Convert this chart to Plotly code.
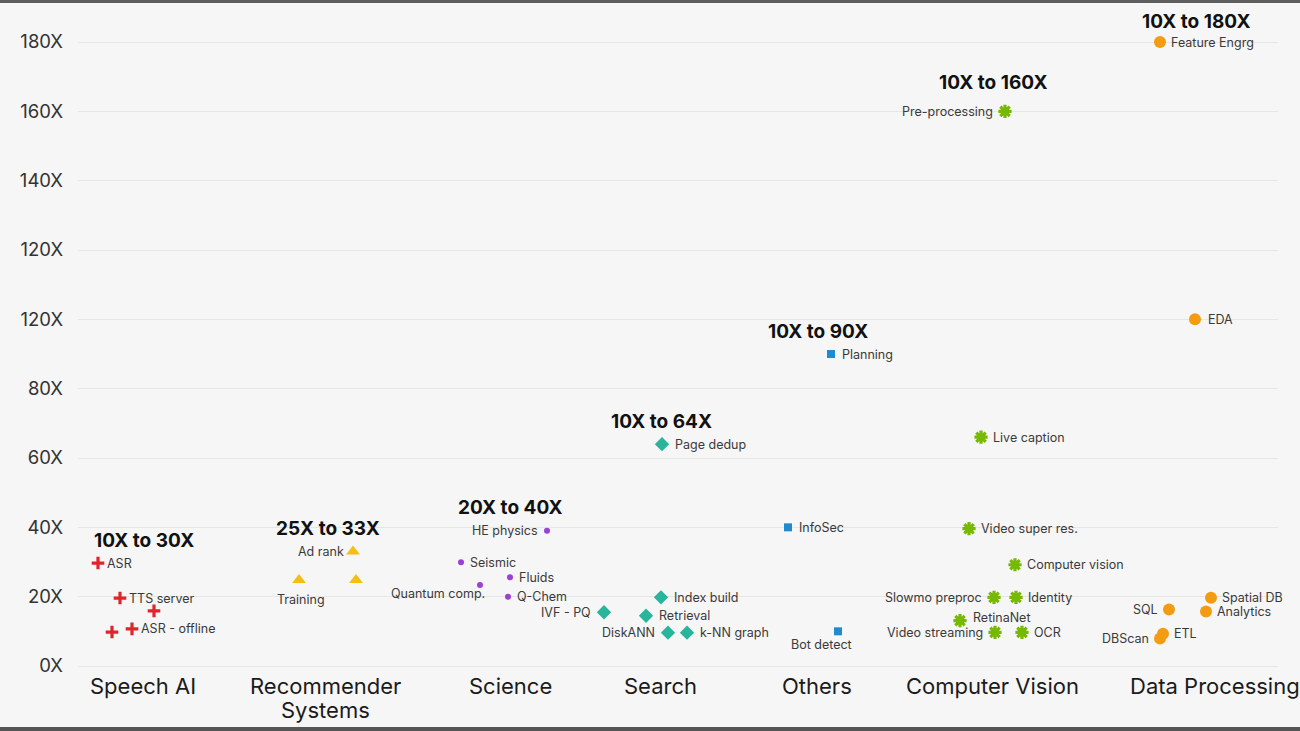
import plotly.graph_objects as go

# ---------------- data ----------------
categories = ["Speech AI", "Recommender<br>Systems", "Science", "Search",
              "Others", "Computer Vision", "Data Processing"]
category_x = [0.65, 2.47, 4.32, 5.82, 7.39, 9.14, 11.37]
speedup_ranges = ["10X to 30X", "25X to 33X", "20X to 40X", "10X to 64X",
                  "10X to 90X", "10X to 160X", "10X to 180X"]
range_label_x = [0.66, 2.50, 4.32, 5.83, 7.40, 9.15, 11.18]

y_tick_values = [0, 20, 40, 60, 80, 100, 120, 140, 160, 180]
y_tick_labels = ["0X", "20X", "40X", "60X", "80X", "120X", "120X", "140X", "160X", "180X"]

speech_names = ["ASR", "TTS server", "", "", "ASR - offline"]
speech_x = [0.20, 0.42, 0.76, 0.34, 0.54]
speech_y = [29.7, 19.6, 15.9, 9.8, 10.7]

recsys_names = ["Ad rank", "Training", ""]
recsys_x = [2.75, 2.21, 2.78]
recsys_y = [33.0, 24.8, 24.8]

science_names = ["HE physics", "Seismic", "Fluids", "Quantum comp.", "Q-Chem"]
science_x = [4.69, 3.83, 4.32, 4.02, 4.30]
science_y = [39.0, 29.9, 25.6, 23.4, 20.0]

search_names = ["Page dedup", "Index build", "IVF - PQ", "Retrieval", "DiskANN", "k-NN graph"]
search_x = [5.84, 5.83, 5.26, 5.68, 5.90, 6.09]
search_y = [64.0, 19.8, 15.5, 14.5, 9.6, 9.6]

others_names = ["Planning", "InfoSec", "Bot detect"]
others_x = [7.53, 7.10, 7.60]
others_y = [90.0, 40.0, 10.0]

cv_names = ["Pre-processing", "Live caption", "Video super res.", "Computer vision",
            "Slowmo preproc", "Identity", "RetinaNet", "Video streaming", "OCR"]
cv_x = [9.27, 9.03, 8.91, 9.37, 9.16, 9.38, 8.82, 9.17, 9.44]
cv_y = [160.0, 66.0, 39.6, 29.2, 19.8, 19.8, 13.1, 9.7, 9.7]

dp_names = ["Feature Engrg", "EDA", "Spatial DB", "Analytics", "SQL", "DBScan", "ETL"]
dp_x = [10.82, 11.17, 11.33, 11.28, 10.91, 10.82, 10.85]
dp_y = [180.0, 100.0, 19.7, 15.7, 16.3, 7.9, 9.3]

# ---------------- styles ----------------
groups = [
    (speech_names, speech_x, speech_y, dict(symbol="cross-thin-open", size=9, color="#e0242b",
                                            line=dict(width=3.2, color="#e0242b")), 8),
    (recsys_names, recsys_x, recsys_y, dict(symbol="triangle-up", size=12, color="#f6be12",
                                            line=dict(width=0)), 8),
    (science_names, science_x, science_y, dict(symbol="circle", size=6, color="#9b3fd6",
                                               line=dict(width=0)), 8),
    (search_names, search_x, search_y, dict(symbol="diamond", size=11, color="#27b59b",
                                            line=dict(width=0)), 12),
    (others_names, others_x, others_y, dict(symbol="square", size=8, color="#1e8bd0",
                                            line=dict(width=0)), 10),
    (cv_names, cv_x, cv_y, dict(symbol="asterisk-open", size=11, color="#76b900",
                                line=dict(width=3.2, color="#76b900")), 11),
    (dp_names, dp_x, dp_y, dict(symbol="circle", size=12, color="#f39c12",
                                line=dict(width=0)), 10),
]

left_labels = {"Ad rank", "HE physics", "IVF - PQ", "DiskANN", "Pre-processing",
               "Slowmo preproc", "Video streaming", "SQL", "DBScan"}
special_labels = {  # name: (xanchor, xshift, yshift)
    "Training": ("center", 2, -19),
    "Bot detect": ("center", -17, -13),
    "Quantum comp.": ("right", 6, -9),
    "RetinaNet": ("left", 12, 3),
    "EDA": ("left", 12, 0),
}
range_label_lift = {"10X to 160X": 29, "10X to 180X": 21}  # default 23 px

FONT = "Inter, 'Open Sans', sans-serif"
label_color = "#3a3a3a"

fig = go.Figure()
annotations = []

for names, xs, ys, marker, gap in groups:
    fig.add_trace(go.Scatter(x=xs, y=ys, mode="markers", marker=marker,
                             hoverinfo="skip", showlegend=False, cliponaxis=False))
    for n, x, y in zip(names, xs, ys):
        if not n:
            continue
        if n in special_labels:
            xa, xs_, ys_ = special_labels[n]
        elif n in left_labels:
            xa, xs_, ys_ = "right", -gap, 0
        else:
            xa, xs_, ys_ = "left", gap, 0
        annotations.append(dict(x=x, y=y, xref="x", yref="y", text=n, showarrow=False,
                                xanchor=xa, yanchor="middle", xshift=xs_, yshift=ys_,
                                borderpad=0,
                                font=dict(family=FONT, size=12.5, color=label_color)))

# group range labels (above the highest point of each group)
for (names, xs, ys, marker, gap), rx, txt in zip(groups, range_label_x, speedup_ranges):
    annotations.append(dict(x=rx, y=max(ys), xref="x", yref="y", text="<b>%s</b>" % txt,
                            showarrow=False, xanchor="center", yanchor="middle",
                            yshift=range_label_lift.get(txt, 23),
                            font=dict(family=FONT, size=19, color="#111111")))

# category labels under the axis (one annotation per line for tight spacing)
for cx, cat in zip(category_x, categories):
    for i, line in enumerate(cat.split("<br>")):
        annotations.append(dict(x=cx, y=0, xref="x", yref="paper", text=line, showarrow=False,
                                xanchor="center", yanchor="top", yshift=5 - 24 * i,
                                align="center",
                                font=dict(family=FONT, size=22, color="#1b1b1b")))

shapes = [
    dict(type="rect", xref="paper", yref="paper", x0=-0.07, x1=1.02, y0=1.0259, y1=1.0310,
         fillcolor="#5f5f5f", line=dict(width=0), layer="above"),
    dict(type="rect", xref="paper", yref="paper", x0=-0.07, x1=1.02, y0=-0.0845, y1=-0.0777,
         fillcolor="#555555", line=dict(width=0), layer="above"),
]

fig.update_layout(
    width=1300, height=731,
    margin=dict(l=78, r=22, t=20, b=55),
    paper_bgcolor="#f6f6f6", plot_bgcolor="#f6f6f6",
    font=dict(family=FONT, color="#333333"),
    annotations=annotations,
    shapes=shapes,
    xaxis=dict(range=[0, 12], showgrid=False, zeroline=False, showticklabels=False,
               showline=False, fixedrange=True),
    yaxis=dict(range=[-2.885, 186.35], tickvals=y_tick_values, ticktext=y_tick_labels,
               showgrid=True, gridcolor="#e6e6e6", gridwidth=1, zeroline=False,
               showline=False, ticks="", ticklabelstandoff=14,
               tickfont=dict(family=FONT, size=18.5, color="#333333"), automargin=False),
    hovermode=False,
)

fig.write_html(
    "out.html",
    config={"displayModeBar": False},
    post_script="document.body.style.margin='0';document.body.style.padding='0';"
                "document.body.style.overflow='hidden';",
)
